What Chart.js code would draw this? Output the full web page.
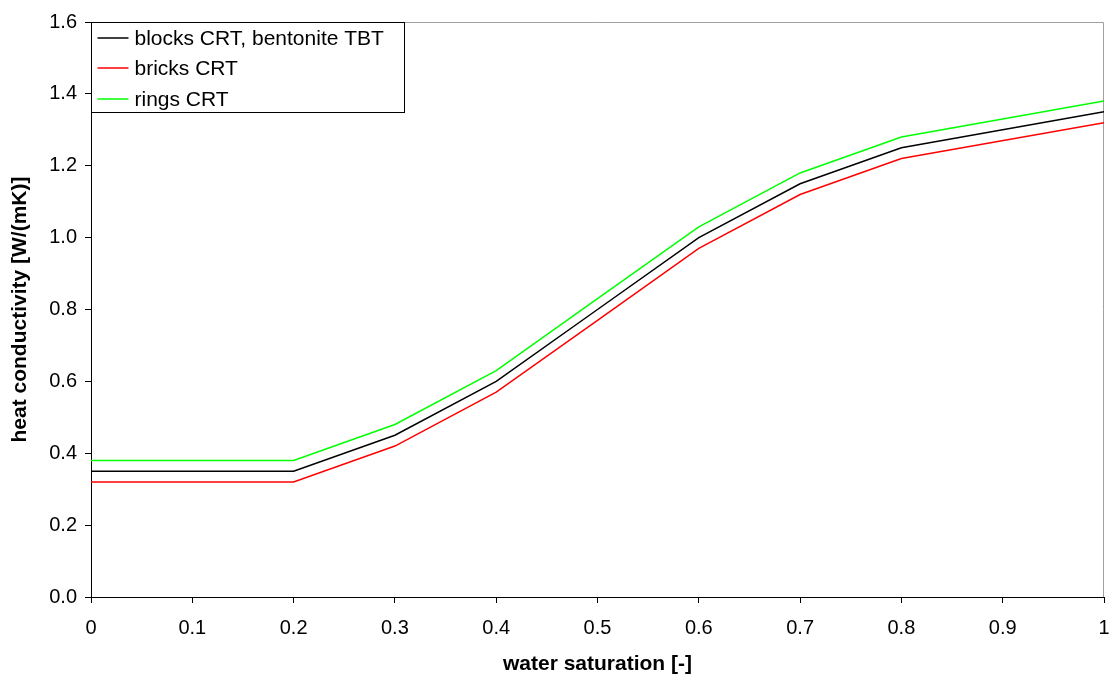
<!DOCTYPE html>
<html>
<head>
<meta charset="utf-8">
<script src="https://cdn.jsdelivr.net/npm/chart.js@4.4.1/dist/chart.umd.min.js"></script>
<style>
  html, body { margin: 0; padding: 0; background: #fff; }
  #wrap { width: 1110px; height: 677px; position: relative; }
</style>
</head>
<body>
<div id="wrap"><canvas id="heatChart" width="1110" height="677"></canvas></div>
<script>
// water saturation points
const saturation = [0, 0.2, 0.3, 0.4, 0.5, 0.6, 0.7, 0.8, 1.0];

// heat conductivity per material [W/(mK)]
const blocksCRT = [0.35, 0.35, 0.45, 0.60, 0.80, 1.00, 1.15, 1.25, 1.35];
const bricksCRT = [0.32, 0.32, 0.42, 0.57, 0.77, 0.97, 1.12, 1.22, 1.32];
const ringsCRT  = [0.38, 0.38, 0.48, 0.63, 0.83, 1.03, 1.18, 1.28, 1.38];

const seriesNames = ['blocks CRT, bentonite TBT', 'bricks CRT', 'rings CRT'];
const seriesColors = ['#000000', '#ff0000', '#00ff00'];

const FONT = '"Liberation Sans", Arial, sans-serif';

function toPoints(ys) {
    return saturation.map((x, i) => ({ x: x, y: ys[i] }));
}

// top/right frame lines in grey
const frameLines = {
    id: 'frameLines',
    beforeDatasetsDraw(chart) {
        const { ctx, chartArea: a } = chart;
        ctx.save();
        ctx.strokeStyle = '#a0a0a0';
        ctx.lineWidth = 1;
        ctx.beginPath();
        ctx.moveTo(a.left, a.top + 0.5);
        ctx.lineTo(a.right - 0.5, a.top + 0.5);
        ctx.lineTo(a.right - 0.5, a.bottom);
        ctx.stroke();
        ctx.restore();
    }
};

// legend box in the upper left corner of the plot
const boxLegend = {
    id: 'boxLegend',
    afterDraw(chart) {
        const { ctx, chartArea: a } = chart;
        const x0 = a.left + 0.5, y0 = a.top + 0.5;
        const w = 313, h = 90;
        ctx.save();
        ctx.fillStyle = '#fff';
        ctx.fillRect(x0, y0, w, h);
        ctx.strokeStyle = '#000';
        ctx.lineWidth = 1;
        ctx.strokeRect(x0, y0, w, h);
        ctx.font = '21px ' + FONT;
        ctx.textBaseline = 'middle';
        chart.data.datasets.forEach((ds, i) => {
            const yy = Math.round(y0 + 15 + i * 30.5);
            ctx.strokeStyle = ds.borderColor;
            ctx.lineWidth = 1.5;
            ctx.beginPath();
            ctx.moveTo(x0 + 6, yy);
            ctx.lineTo(x0 + 37, yy);
            ctx.stroke();
            ctx.fillStyle = '#000';
            ctx.fillText(ds.label, x0 + 43, yy + 1);
        });
        ctx.restore();
    }
};

const ctx = document.getElementById('heatChart').getContext('2d');
new Chart(ctx, {
    type: 'line',
    data: {
        datasets: [blocksCRT, bricksCRT, ringsCRT].map((ys, i) => ({
            label: seriesNames[i],
            data: toPoints(ys),
            borderColor: seriesColors[i],
            backgroundColor: seriesColors[i],
            borderWidth: 1.5,
            pointRadius: 0,
            tension: 0,
            fill: false
        }))
    },
    options: {
        responsive: false,
        animation: false,
        layout: { padding: { top: 22, right: 6, left: 0, bottom: 0 } },
        plugins: {
            legend: { display: false },
            tooltip: { enabled: false }
        },
        scales: {
            x: {
                type: 'linear',
                min: 0,
                max: 1,
                afterFit(scale) {
                    scale.height = 80;
                    scale.paddingLeft = 0;
                    scale.paddingRight = 0;
                },
                grid: { drawOnChartArea: false, drawTicks: true, tickLength: 6, color: '#000' },
                border: { color: '#000', width: 1 },
                ticks: {
                    stepSize: 0.1,
                    padding: 13,
                    color: '#000',
                    font: { family: FONT, size: 20 },
                    callback: v => String(Math.round(v * 10) / 10)
                },
                title: {
                    display: true,
                    text: 'water saturation [-]',
                    color: '#000',
                    font: { family: FONT, size: 21, weight: 'bold' },
                    padding: { top: 4, bottom: 0 }
                }
            },
            y: {
                min: 0,
                max: 1.6,
                afterFit(scale) { scale.width = 91; },
                grid: { drawOnChartArea: false, drawTicks: true, tickLength: 6, color: '#000' },
                border: { color: '#000', width: 1 },
                ticks: {
                    stepSize: 0.2,
                    padding: 8,
                    color: '#000',
                    font: { family: FONT, size: 20 },
                    callback: v => v.toFixed(1)
                },
                title: {
                    display: true,
                    text: 'heat conductivity [W/(mK)]',
                    color: '#000',
                    font: { family: FONT, size: 21, weight: 'bold' },
                    padding: { top: 8, bottom: 2 }
                }
            }
        }
    },
    plugins: [frameLines, boxLegend]
});
</script>
</body>
</html>
